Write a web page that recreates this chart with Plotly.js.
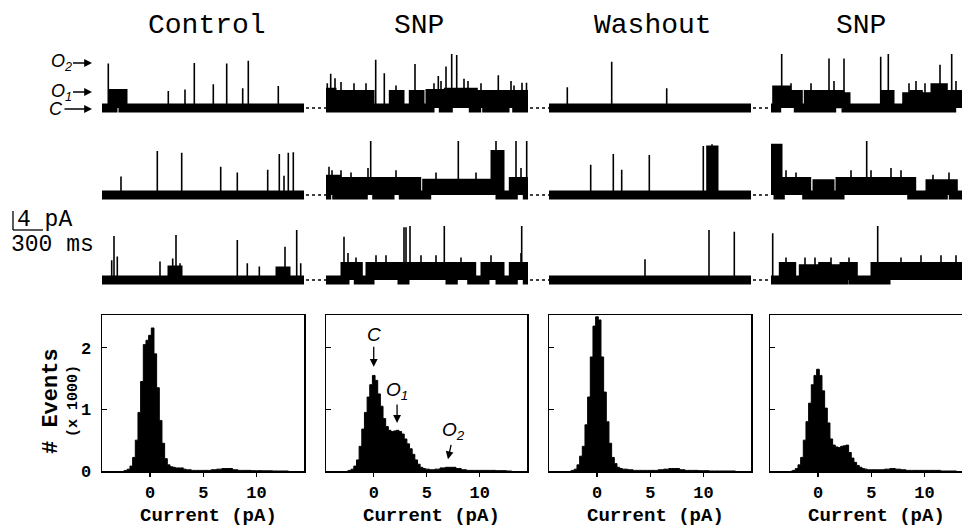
<!DOCTYPE html>
<html><head><meta charset="utf-8">
<script src="https://cdn.plot.ly/plotly-3.0.1.min.js"></script>
<style>html,body{margin:0;padding:0;overflow:hidden;background:#fff;width:962px;height:527px}#chart{width:980px;height:527px}</style>
</head><body><div id="chart"></div>
<script>
// ---------------- DATA ----------------
const conditions = ["Control", "SNP", "Washout", "SNP"];
const TRACE_MS = 2020;            // duration of each sweep (ms)
// Single-channel sweeps: bursts = [start ms, end ms, level pA], spikes = [time ms, peak pA]
const control1Bursts = [[110,210,3.2]];
const control1Spikes = [[63,9.9],[663,3.8],[830,4.1],[923,10],[1113,5.3],[1247,9.9],[1407,4.4],[1463,10.5],[1763,4.9]];
const control2Bursts = [];
const control2Spikes = [[190,4.1],[553,9.8],[797,9.4],[1187,6.3],[1353,5.0],[1657,5.6],[1773,9.1],[1820,4.3],[1863,9.4],[1913,9.5]];
const control3Bursts = [[700,760,2.2],[1780,1840,2.0]];
const control3Spikes = [[97,4.4],[120,9.8],[153,5.2],[580,4.1],[707,4.8],[740,10],[780,3.7],[1353,8.9],[1453,3.7],[1573,3.0],[1830,7.4],[1947,11.1],[1987,3.7]];

const snpA1Bursts = [[7,60,3.5],[123,190,3],[247,307,3],[367,440,3],[673,740,3],[873,940,3],[1040,1173,3.2],[1223,1473,3.5],[1507,1607,3],[1690,1757,3],[1790,1907,3],[1940,2013,3]];
const snpA1Spikes = [[13,5.5],[47,7.6],[90,6.6],[150,5.8],[280,5.5],[400,5.5],[497,10.7],[583,7.7],[700,5],[890,9.8],[1080,5.5],[1123,7.1],[1150,6],[1200,9.2],[1257,12.7],[1307,11.8],[1380,6.5],[1420,6],[1550,5.5],[1723,7.3],[1850,6],[1880,5],[1960,5.6],[2005,5.6]];
const snpA2Bursts = [[7,107,3.5],[123,173,3],[223,273,3],[290,340,3],[373,507,3],[523,590,3],[640,773,3],[823,907,3],[1007,1690,2.6],[1690,1740,9],[1873,2013,3]];
const snpA2Spikes = [[30,6.3],[60,5.5],[150,5.5],[250,5],[420,6],[447,12.6],[700,5.5],[1100,5],[1323,12.2],[1500,5],[1700,13],[1900,13],[1950,6],[2007,13]];
const snpA3Bursts = [[190,323,3],[440,760,3],[790,1240,3],[1273,1457,3],[1590,1740,3],[1873,2013,3]];
const snpA3Spikes = [[180,9.6],[220,6],[300,5],[500,5.5],[600,5.5],[780,11.7],[800,11.7],[840,13],[950,5.5],[1100,5.5],[1183,12],[1350,5],[1650,5.5],[1950,6],[1957,13]];

const wash1Bursts = [];
const wash1Spikes = [[183,4.6],[627,10.3],[1177,4.4]];
const wash2Bursts = [[1617,1650,10]];
const wash2Spikes = [[417,6.7],[643,9.1],[727,5.6],[1003,8.9],[1543,10.9],[1630,11.3]];
const wash3Bursts = [];
const wash3Spikes = [[960,4.6],[1600,11.1],[1853,10.7]];

const snpB1Bursts = [[57,157,4],[157,273,3],[373,440,3],[490,540,3],[607,690,3],[700,750,2.5],[1140,1190,3],[1357,1390,2.5],[1430,1473,3],[1523,1557,2.5],[1640,1723,4.5],[1807,2020,3]];
const snpB1Spikes = [[107,13],[200,5.5],[400,5.5],[580,11],[630,6],[730,11],[1097,11.4],[1173,13.3],[1380,5.5],[1450,6],[1540,5.5],[1690,9.6],[1807,13.3],[1850,6]];
const snpB2Bursts = [[0,70,10.4],[93,357,3],[460,493,2.5],[540,590,2.5],[690,1407,3],[1590,1657,2.5],[1723,1823,2.5]];
const snpB2Spikes = [[150,5.5],[250,5],[800,5.5],[957,13.3],[1000,5.5],[1200,6],[1300,5.5],[1620,4.5],[1780,5]];
const snpB3Bursts = [[123,207,3],[323,357,2.5],[423,473,2.5],[517,557,3],[590,657,2.5],[730,823,3],[1040,1123,3],[1150,2020,3]];
const snpB3Spikes = [[17,10.4],[150,5],[340,5],[440,5],[600,5],[780,5],[1067,12.7],[1300,5],[1500,5.5],[1700,5.5],[1850,5.5]];

// Amplitude histograms (# events x 1000 vs current pA)
const currentBins = [-2.5,-2.25,-2,-1.75,-1.5,-1.25,-1,-0.75,-0.5,-0.25,0,0.25,0.5,0.75,1,1.25,1.5,1.75,2,2.25,2.5,2.75,3,3.25,3.5,3.75,4,4.25,4.5,4.75,5,5.5,6,6.5,7,7.5,8,8.5,9,10,11,12,13];
const histControl = [0,0.01,0.03,0.08,0.22,0.5,0.95,1.45,2.05,2.12,2.2,2.32,1.9,1.35,0.82,0.45,0.2,0.1,0.07,0.06,0.05,0.05,0.05,0.03,0.02,0.02,0.01,0.01,0.01,0.01,0.01,0.01,0.02,0.03,0.04,0.04,0.02,0.01,0.01,0.005,0.003,0,0];
const histSnpA   = [0,0.01,0.03,0.08,0.18,0.4,0.68,0.95,1.2,1.4,1.55,1.47,1.25,1.05,0.85,0.72,0.66,0.64,0.65,0.66,0.64,0.6,0.52,0.44,0.36,0.27,0.18,0.11,0.06,0.04,0.03,0.02,0.03,0.05,0.06,0.06,0.04,0.02,0.01,0.01,0.01,0.005,0];
const histWashout= [0,0.01,0.03,0.1,0.24,0.4,0.75,1.2,1.85,2.35,2.5,2.45,1.85,1.28,0.8,0.45,0.22,0.12,0.06,0.04,0.03,0.03,0.02,0.02,0.01,0.01,0.01,0.01,0.01,0.01,0.01,0.01,0.02,0.03,0.04,0.04,0.02,0.01,0.01,0.005,0,0,0];
const histSnpB   = [0,0.01,0.04,0.1,0.22,0.5,0.8,1.1,1.4,1.55,1.65,1.55,1.3,1.02,0.78,0.52,0.42,0.39,0.38,0.4,0.41,0.42,0.3,0.21,0.14,0.09,0.06,0.04,0.03,0.02,0.02,0.02,0.02,0.03,0.04,0.03,0.02,0.01,0.01,0.01,0.01,0,0];
const histTickVals = [0,5,10];
const countTickVals = [0,1,2];

// ---------------- LAYOUT (pixel geometry) ----------------
const W = 980, H = 527;
const colPx = [[102,304],[326,528],[549,751],[771,973]];
const rowBase = [108,195,280];
const PX_PER_PA = 4.5, Y_LO = -5, Y_HI = 12;
const histTop = 315, histBot = 471;
const FONT_M = 'Liberation Mono, Courier New, monospace';
const FONT_S = 'Liberation Sans, Arial, sans-serif';
const xd = (a,b)=>[a/W,b/W];
const yd = (top,bot)=>[1-bot/H,1-top/H];
const px = v=>v/W, py = v=>1-v/H;

const sweepBursts = [
  [control1Bursts,control2Bursts,control3Bursts],
  [snpA1Bursts,snpA2Bursts,snpA3Bursts],
  [wash1Bursts,wash2Bursts,wash3Bursts],
  [snpB1Bursts,snpB2Bursts,snpB3Bursts]];
const sweepSpikes = [
  [control1Spikes,control2Spikes,control3Spikes],
  [snpA1Spikes,snpA2Spikes,snpA3Spikes],
  [wash1Spikes,wash2Spikes,wash3Spikes],
  [snpB1Spikes,snpB2Spikes,snpB3Spikes]];
const hists = [histControl,histSnpA,histWashout,histSnpB];

const data = [];
const layout = {width:W,height:H,margin:{l:0,r:0,t:0,b:0},paper_bgcolor:'#fff',plot_bgcolor:'rgba(0,0,0,0)',
  showlegend:false,shapes:[],annotations:[]};

const axName = (p,i)=> i===1? p : p+i;
for (let c=0;c<4;c++){
  layout['xaxis'+(c===0?'':c+1)] = {domain:xd(colPx[c][0],colPx[c][1]),range:[0,TRACE_MS],visible:false,fixedrange:true,anchor:'y'};
}
for (let r=0;r<3;r++){
  const base=rowBase[r];
  layout['yaxis'+(r===0?'':r+1)] = {domain:yd(base-Y_HI*PX_PER_PA, base-Y_LO*PX_PER_PA),range:[Y_LO,Y_HI],visible:false,fixedrange:true,anchor:'x'};
}
for (let c=0;c<4;c++){
  for (let r=0;r<3;r++){
    const xa = axName('x',c+1), ya = axName('y',r+1);
    const bx=[0], by=[0];
    sweepBursts[c][r].forEach(([s,e,l])=>{bx.push(s,s,e,e);by.push(0,l,l,0);});
    bx.push(TRACE_MS); by.push(0);
    const sx=[], sy=[];
    sweepSpikes[c][r].forEach(([t,h])=>{sx.push(t,t,null);sy.push(0,h,null);});
    data.push({type:'scatter',mode:'lines',x:sx,y:sy,xaxis:xa,yaxis:ya,line:{color:'#000',width:1.6},hoverinfo:'skip'});
    data.push({type:'scatter',mode:'lines',x:bx,y:by,xaxis:xa,yaxis:ya,fill:'tozeroy',fillcolor:'#000',line:{color:'#000',width:9},hoverinfo:'skip'});
  }
}
// dotted baselines between sweeps
for (let r=0;r<3;r++){
  for (let c=0;c<3;c++){
    layout.shapes.push({type:'line',xref:'paper',yref:'paper',x0:px(colPx[c][1]+2),x1:px(colPx[c+1][0]),y0:py(rowBase[r]),y1:py(rowBase[r]),line:{color:'#000',width:1.5,dash:'3px,3px'}});
  }
}
// histograms
const histCols = [[102,304],[326,527],[549,751],[770,972]];
for (let c=0;c<4;c++){
  const xi=5+c, yi=4+c;
  layout['xaxis'+xi] = {domain:xd(histCols[c][0],histCols[c][1]),range:[-4.5,14.45],anchor:'y'+yi,showline:true,mirror:true,
    linecolor:'#000',linewidth:1.5,ticks:'outside',ticklen:4,tickwidth:1.3,tickcolor:'#000',tickmode:'array',tickvals:histTickVals,
    showgrid:false,zeroline:false,fixedrange:true,ticklabelstandoff:1,tickfont:{family:FONT_M,size:17,color:'#000',weight:'bold'}};
  layout['yaxis'+yi] = {domain:yd(histTop,histBot),range:[0,2.53],anchor:'x'+xi,showline:true,mirror:true,
    linecolor:'#000',linewidth:1.5,ticks:'inside',ticklen:5,tickwidth:1.3,tickcolor:'#000',tickmode:'array',tickvals:countTickVals,
    showticklabels:c===0,showgrid:false,zeroline:false,fixedrange:true,ticklabelstandoff:6,tickfont:{family:FONT_M,size:17,color:'#000',weight:'bold'}};
  data.push({type:'scatter',mode:'lines',x:currentBins,y:hists[c],xaxis:'x'+xi,yaxis:'y'+yi,fill:'tozeroy',fillcolor:'#000',
    line:{color:'#000',width:1,shape:'hvh'},hoverinfo:'skip'});
  layout.annotations.push({xref:'paper',yref:'paper',x:px((histCols[c][0]+histCols[c][1])/2+5),y:py(516),text:'Current (pA)',showarrow:false,
    font:{family:FONT_M,size:19,color:'#000',weight:'bold'},xanchor:'center',yanchor:'middle'});
}
// column titles
const titleX = [207,419,653,861];
conditions.forEach((t,i)=>layout.annotations.push({xref:'paper',yref:'paper',x:px(titleX[i]),y:py(26),text:t,showarrow:false,
  font:{family:FONT_M,size:28,color:'#000'},xanchor:'center',yanchor:'middle'}));
// y title
layout.annotations.push({xref:'paper',yref:'paper',x:px(51),y:py(401),text:'# Events',textangle:-90,showarrow:false,
  font:{family:FONT_M,size:22,color:'#000',weight:'bold'},xanchor:'center',yanchor:'middle'});
layout.annotations.push({xref:'paper',yref:'paper',x:px(73),y:py(401),text:'(x 1000)',textangle:-90,showarrow:false,
  font:{family:FONT_M,size:15,color:'#000',weight:'bold'},xanchor:'center',yanchor:'middle'});
// state labels
const stateLbl = [['<i>O<sub>2</sub></i>',63,-31],['<i>O<sub>1</sub></i>',92,-31],['<i>C</i>',109,-36]];
stateLbl.forEach(([t,y,ax])=>layout.annotations.push({xref:'paper',yref:'paper',x:px(92),y:py(y),text:t,showarrow:true,ax:ax,ay:0,
  arrowhead:2,arrowsize:1.2,arrowwidth:1.3,arrowcolor:'#000',font:{family:FONT_S,size:18,color:'#000'}}));
// histogram state arrows (SNP panel)
const histLbl = [['<i>C</i>',0,1.69,0,-32],['<i>O<sub>1</sub></i>',2.2,0.78,0,-32],['<i>O<sub>2</sub></i>',7.0,0.19,6,-28]];
histLbl.forEach(([t,x,y,ax,ay])=>layout.annotations.push({xref:'x6',yref:'y5',x:x,y:y,text:t,showarrow:true,ax:ax,ay:ay,
  arrowhead:2,arrowsize:1.2,arrowwidth:1.3,arrowcolor:'#000',font:{family:FONT_S,size:19,color:'#000'}}));
// scale bar
layout.shapes.push({type:'line',xref:'paper',yref:'paper',x0:px(13),x1:px(13),y0:py(211),y1:py(230),line:{color:'#000',width:1.3}});
layout.shapes.push({type:'line',xref:'paper',yref:'paper',x0:px(13),x1:px(43),y0:py(230),y1:py(230),line:{color:'#000',width:1.3}});
layout.annotations.push({xref:'paper',yref:'paper',x:px(15),y:py(220),text:'4 pA',showarrow:false,xanchor:'left',yanchor:'middle',
  font:{family:FONT_M,size:23,color:'#000'}});
layout.annotations.push({xref:'paper',yref:'paper',x:px(9),y:py(245),text:'300 ms',showarrow:false,xanchor:'left',yanchor:'middle',
  font:{family:FONT_M,size:23,color:'#000'}});

Plotly.newPlot('chart',data,layout,{displayModeBar:false,staticPlot:true});
</script></body></html>
